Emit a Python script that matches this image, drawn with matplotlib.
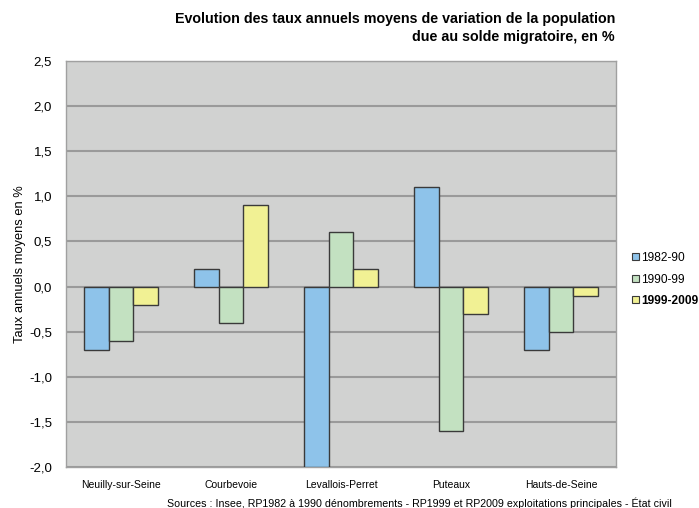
import matplotlib
matplotlib.use("Agg")
import matplotlib.pyplot as plt
from matplotlib.patches import Patch
import numpy as np

plt.rcParams['font.family'] = ['Liberation Sans', 'DejaVu Sans']

communes = ["Neuilly-sur-Seine", "Courbevoie", "Levallois-Perret", "Puteaux", "Hauts-de-Seine"]
periods = ["1982-90", "1990-99", "1999-2009"]
taux_1982_90 = [-0.7, 0.2, -2.0, 1.1, -0.7]
taux_1990_99 = [-0.6, -0.4, 0.6, -1.6, -0.5]
taux_1999_2009 = [-0.2, 0.9, 0.2, -0.3, -0.1]
yticks = [-2.0, -1.5, -1.0, -0.5, 0.0, 0.5, 1.0, 1.5, 2.0, 2.5]

colors = ["#8EC3EA", "#C3E1C1", "#F1F194"]
series = [taux_1982_90, taux_1990_99, taux_1999_2009]

fig = plt.figure(figsize=(6.99, 5.08), dpi=100)
ax = fig.add_axes([66 / 699, 41 / 508, 550 / 699, 406 / 508])
ax.set_facecolor("#D1D2D1")

x = np.arange(len(communes))
w = 0.223
for i, (vals, c) in enumerate(zip(series, colors)):
    ax.bar(x + (i - 1) * w, vals, width=w, color=c, edgecolor="#3a3a3a",
           linewidth=1.0, zorder=3)

ax.set_xlim(-0.5, len(communes) - 0.5)
ax.set_ylim(-2.0, 2.5)
ax.set_yticks(yticks)
ax.set_yticklabels([f"{v:.1f}".replace(".", ",") for v in yticks], fontsize=9.5)
ax.yaxis.grid(True, color="#9A9A9A", linewidth=1.5, zorder=1)
ax.set_axisbelow(True)
ax.tick_params(axis="y", length=0, pad=10)
ax.set_xticks(x)
ax.set_xticklabels(communes, fontsize=7.5)
ax.tick_params(axis="x", length=0, pad=9)
for s in ax.spines.values():
    s.set_color("#A0A0A0")
    s.set_linewidth(1.0)

ax.set_ylabel("Taux annuels moyens en %", fontsize=9.3)
ax.yaxis.set_label_coords(-0.072, 0.5)

fig.text(615 / 699, 1 - 28 / 508,
         "Evolution des taux annuels moyens de variation de la population\n"
         "due au solde migratoire, en %",
         ha="right", va="center", fontsize=10.3, fontweight="bold", linespacing=1.4)

fig.text(419 / 699, 1 - 503 / 508,
         "Sources : Insee, RP1982 à 1990 dénombrements - RP1999 et RP2009 exploitations principales - État civil",
         ha="center", va="center", fontsize=7.7)

handles = [Patch(facecolor=c, edgecolor="#3a3a3a", linewidth=0.8) for c in colors]
leg = fig.legend(handles, periods, loc="upper left",
                 bbox_to_anchor=(626 / 699, 1 - 246 / 508), frameon=False,
                 fontsize=8.6, handlelength=0.55, handleheight=0.55,
                 handletextpad=0.25, labelspacing=0.8, borderpad=0)
leg.get_texts()[2].set_fontweight("bold")

fig.savefig("out.png", dpi=100)
